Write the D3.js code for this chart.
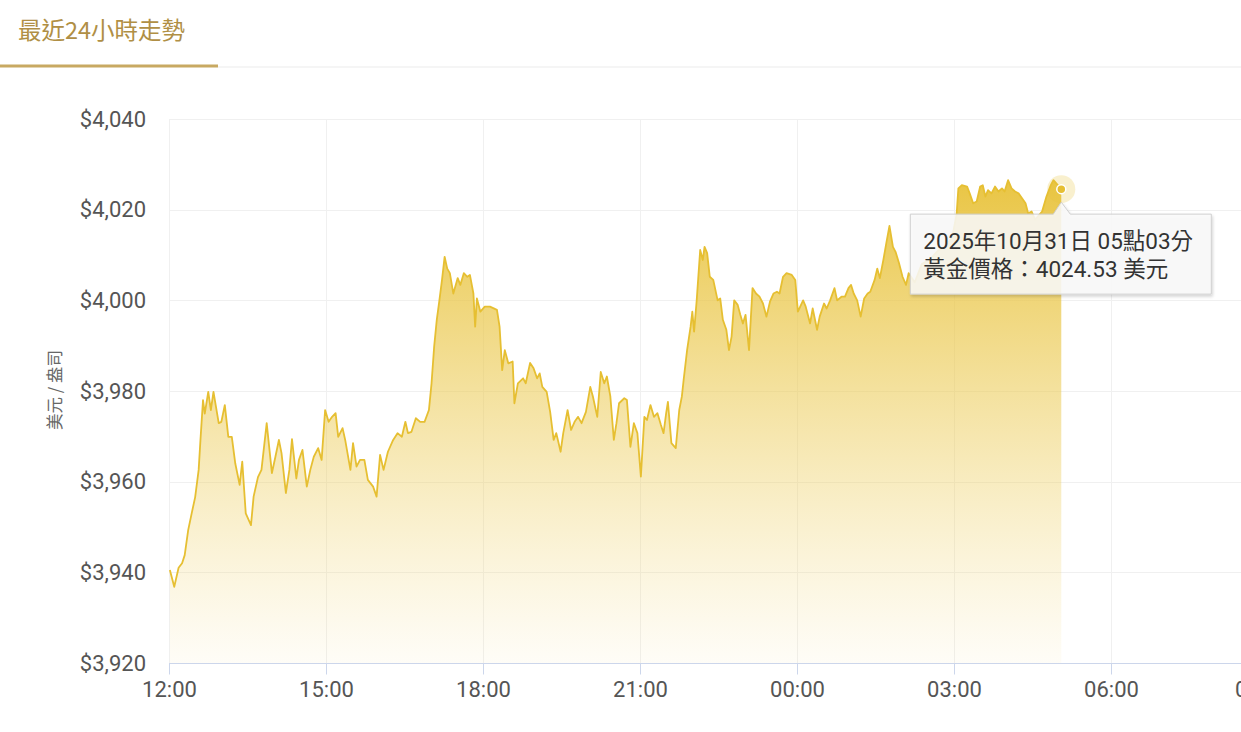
<!DOCTYPE html>
<html><head><meta charset="utf-8">
<script src="https://cdn.jsdelivr.net/npm/d3@7"></script>
<style>
html,body{margin:0;padding:0;background:#fff;overflow:hidden;}
svg{display:block;font-family:Roboto,"Noto Sans CJK TC","Noto Sans",sans-serif;}
</style></head>
<body><svg id="c" width="1241" height="732"></svg>
<script>
// ---- data (minutes after 12:00 on 2025-10-30, gold price USD/oz) ----
const minutesAfterNoon = [1,6,11,15,18,22,26,30,34,36,39,41,45,48,51,57,60,64,68,72,76,81,84,88,94,97,102,106,112,118,122,126,129,134,138,141,146,149,153,158,162,166,171,175,179,183,187,191,194,199,202,208,211,215,219,224,228,234,238,242,246,251,257,262,267,271,274,278,283,288,293,298,301,304,307,310,313,316,319,322,326,331,334,338,342,345,349,351,353,357,362,368,376,379,382,385,389,394,396,400,406,409,414,418,422,425,428,433,437,441,444,449,452,457,461,465,469,473,478,483,486,491,495,499,502,506,510,513,516,522,525,529,533,537,541,545,548,552,556,560,564,567,570,572,576,581,585,588,590,594,598,600,602,605,609,612,614,617,620,624,629,632,635,639,642,645,648,652,655,658,661,665,669,673,677,681,685,689,693,697,700,704,708,714,718,721,727,730,735,738,743,746,751,754,758,763,766,771,775,779,782,785,789,793,797,801,804,809,812,815,819,823,826,830,833,837,841,845,848,855,863,872,882,891,898,903,905,909,915,918,922,926,930,933,936,939,943,947,951,955,958,962,966,970,974,978,982,985,989,993,1001,1006,1011,1014,1023];
const prices = [3940.5,3936.8,3941.0,3942.0,3943.8,3949.3,3953.0,3956.6,3962.6,3969.0,3978.0,3975.0,3979.8,3975.8,3979.8,3972.9,3973.2,3976.9,3969.9,3969.9,3964.0,3959.3,3964.4,3953.0,3950.4,3956.7,3961.0,3962.6,3972.9,3961.9,3965.5,3969.2,3966.3,3957.5,3962.6,3969.4,3960.7,3964.8,3967.0,3958.9,3962.6,3965.5,3967.4,3964.8,3975.8,3973.2,3974.3,3975.1,3969.9,3971.8,3969.2,3962.6,3968.5,3963.3,3964.8,3964.8,3960.4,3958.9,3956.7,3965.9,3962.6,3966.6,3969.2,3970.7,3969.9,3973.2,3970.7,3971.0,3974.0,3973.2,3973.2,3975.8,3981.7,3989.8,3995.7,4000.0,4004.5,4009.6,4007.0,4006.0,4001.5,4004.9,4003.4,4006.0,4005.2,4005.6,4001.5,3994.2,4000.4,3997.5,3998.6,3998.6,3997.9,3994.2,3984.6,3989.0,3986.1,3986.5,3977.3,3981.7,3982.8,3981.7,3986.2,3985.0,3982.8,3983.9,3980.9,3979.8,3975.4,3969.2,3970.7,3966.6,3970.7,3975.8,3971.4,3973.2,3974.3,3972.9,3975.4,3980.9,3978.8,3974.3,3984.2,3981.7,3983.2,3978.8,3969.2,3972.9,3977.3,3978.4,3978.0,3967.7,3972.9,3970.7,3961.1,3974.3,3973.6,3976.9,3974.3,3975.1,3972.5,3970.7,3975.1,3977.6,3968.5,3967.4,3975.8,3978.8,3982.4,3989.0,3994.2,3997.5,3993.1,4000.0,4011.1,4008.9,4011.8,4010.4,4005.2,4004.5,4000.0,4000.4,3995.7,3993.5,3989.0,3992.0,4000.0,3999.0,3996.8,3994.9,3996.8,3989.0,4002.7,4001.5,4000.8,3999.3,3996.4,3999.7,4001.5,4001.9,4001.5,4005.2,4006.0,4005.6,4004.5,3997.5,4000.0,3998.6,3994.9,3998.2,3993.5,3996.4,3999.3,3998.2,4000.0,4002.7,4000.0,4000.8,4000.8,4002.7,4003.4,4001.5,4000.0,3996.4,4000.4,4001.5,4001.9,4004.5,4007.0,4004.9,4008.9,4013.3,4016.4,4011.8,4010.7,4008.2,4005.2,4003.4,4006.0,4004.0,4008.0,4009.0,4011.0,4012.0,4014.0,4019.0,4024.7,4025.4,4025.1,4023.6,4021.4,4021.8,4025.1,4025.4,4022.9,4024.3,4023.6,4025.1,4024.0,4024.7,4024.0,4026.5,4024.7,4024.0,4023.6,4022.5,4021.4,4019.2,4019.6,4017.8,4019.6,4022.9,4025.4,4026.5,4024.53];
const yTicks = [3920,3940,3960,3980,4000,4020,4040];
const titleText = "最近24小時走勢";
const yAxisTitle = "美元 / 盎司";
const tooltipDate = "2025年10月31日 05點03分";
const tooltipLabel = "黃金價格：";
const tooltipUnit = " 美元";

// ---- drawing ----
const svg = d3.select("#c");
const base = new Date(2025, 9, 30, 12, 0);
const data = minutesAfterNoon.map((m, i) => ({t: new Date(base.getTime() + m * 60000), v: prices[i]}));

const x = d3.scaleTime().domain([base, new Date(2025, 9, 31, 9, 0)]).range([169, 1268]);
const y = d3.scaleLinear().domain([3920, 4040]).range([663, 119]);

// header
svg.append("text").attr("x", 18).attr("y", 39).attr("font-size", 23.5)
  .attr("fill", "#b08f45").attr("font-family", "'Noto Sans CJK TC',Roboto,sans-serif").text(titleText);
svg.append("rect").attr("x", 218).attr("y", 66.5).attr("width", 1023).attr("height", 1).attr("fill", "#ececec");
svg.append("rect").attr("x", 0).attr("y", 64.5).attr("width", 218).attr("height", 3).attr("fill", "#c8a962");

// gradient
const defs = svg.append("defs");
const grad = defs.append("linearGradient").attr("id", "g").attr("x1", 0).attr("y1", 0).attr("x2", 0).attr("y2", 1);
grad.append("stop").attr("offset", "0%").attr("stop-color", "#e8c23a").attr("stop-opacity", 0.95);
grad.append("stop").attr("offset", "55%").attr("stop-color", "#eccb55").attr("stop-opacity", 0.45);
grad.append("stop").attr("offset", "100%").attr("stop-color", "#f2d77a").attr("stop-opacity", 0.06);
const sh = defs.append("filter").attr("id", "sh").attr("x", "-10%").attr("y", "-20%").attr("width", "130%").attr("height", "160%");
sh.append("feDropShadow").attr("dx", 1).attr("dy", 2).attr("stdDeviation", 1.5).attr("flood-color", "#000").attr("flood-opacity", 0.18);

// grid
const xTicks = x.ticks(d3.timeHour.every(3));
svg.append("g").selectAll("line").data(yTicks).join("line")
  .attr("x1", 169).attr("x2", 1268).attr("y1", d => Math.round(y(d)) + 0.5).attr("y2", d => Math.round(y(d)) + 0.5)
  .attr("stroke", "#f0f0f0").attr("stroke-width", 1);
svg.append("g").selectAll("line").data(xTicks).join("line")
  .attr("x1", d => Math.round(x(d)) + 0.5).attr("x2", d => Math.round(x(d)) + 0.5).attr("y1", 119).attr("y2", 663)
  .attr("stroke", "#f0f0f0").attr("stroke-width", 1);

// area + line
const area = d3.area().x(d => x(d.t)).y0(y(3920)).y1(d => y(d.v));
const line = d3.line().x(d => x(d.t)).y(d => y(d.v));
svg.append("path").datum(data).attr("d", area).attr("fill", "url(#g)");
svg.append("path").datum(data).attr("d", line).attr("fill", "none")
  .attr("stroke", "#e6bf32").attr("stroke-width", 1.8).attr("stroke-linejoin", "round");

// y axis labels
const yAxis = d3.axisLeft(y).tickValues(yTicks).tickSize(0).tickPadding(0)
  .tickFormat(d => "$" + d3.format(",")(d));
const gy = svg.append("g").attr("transform", "translate(146,0)").call(yAxis);
gy.select(".domain").remove();
gy.selectAll("text").attr("font-size", 22).attr("fill", "#555").attr("font-family", "Roboto,sans-serif");

// y title
svg.append("text").attr("transform", "translate(61,390) rotate(-90)").attr("text-anchor", "middle")
  .attr("font-size", 16.5).attr("fill", "#666").attr("font-family", "'Noto Sans CJK TC',sans-serif").text(yAxisTitle);

// x axis
const xAxis = d3.axisBottom(x).tickValues(xTicks).tickSize(11).tickPadding(7).tickFormat(d3.timeFormat("%H:%M"));
const gx = svg.append("g").attr("transform", "translate(0,663.5)").call(xAxis);
gx.select(".domain").attr("stroke", "#ccd6eb").attr("d", "M169,0H1268");
gx.selectAll(".tick line").attr("stroke", "#ccd6eb");
gx.selectAll("text").attr("font-size", 22).attr("fill", "#555").attr("font-family", "Roboto,sans-serif");
gx.selectAll(".tick").filter((d, i, n) => i === n.length - 1).select("text").attr("dx", -6);

// hover marker + tooltip
const last = data[data.length - 1];
const px = x(last.t), py = y(last.v);
svg.append("circle").attr("cx", px).attr("cy", py).attr("r", 14).attr("fill", "#e8c23a").attr("fill-opacity", 0.25);

const L = px - 151, R = px + 150, T = py + 25, B = py + 105;
const tip = svg.append("g");
tip.append("path")
  .attr("d", `M${L},${T}H${px - 8}L${px},${py + 13}L${px + 9},${T}H${R}V${B}H${L}Z`)
  .attr("fill", "rgba(250,250,250,0.86)").attr("stroke", "#cfcfcf").attr("stroke-width", 1).attr("filter", "url(#sh)");
const tt = tip.append("text").attr("font-size", 22.5).attr("fill", "#333")
  .attr("font-family", "Roboto,'Noto Sans CJK TC',sans-serif");
tt.append("tspan").attr("x", L + 13).attr("y", T + 35).text(tooltipDate);
tt.append("tspan").attr("x", L + 13).attr("y", T + 63).text(tooltipLabel + d3.format(".2f")(last.v) + tooltipUnit);

svg.append("circle").attr("cx", px).attr("cy", py).attr("r", 4.5).attr("fill", "#e6bf32")
  .attr("stroke", "#fff").attr("stroke-width", 1.5);
</script></body></html>
